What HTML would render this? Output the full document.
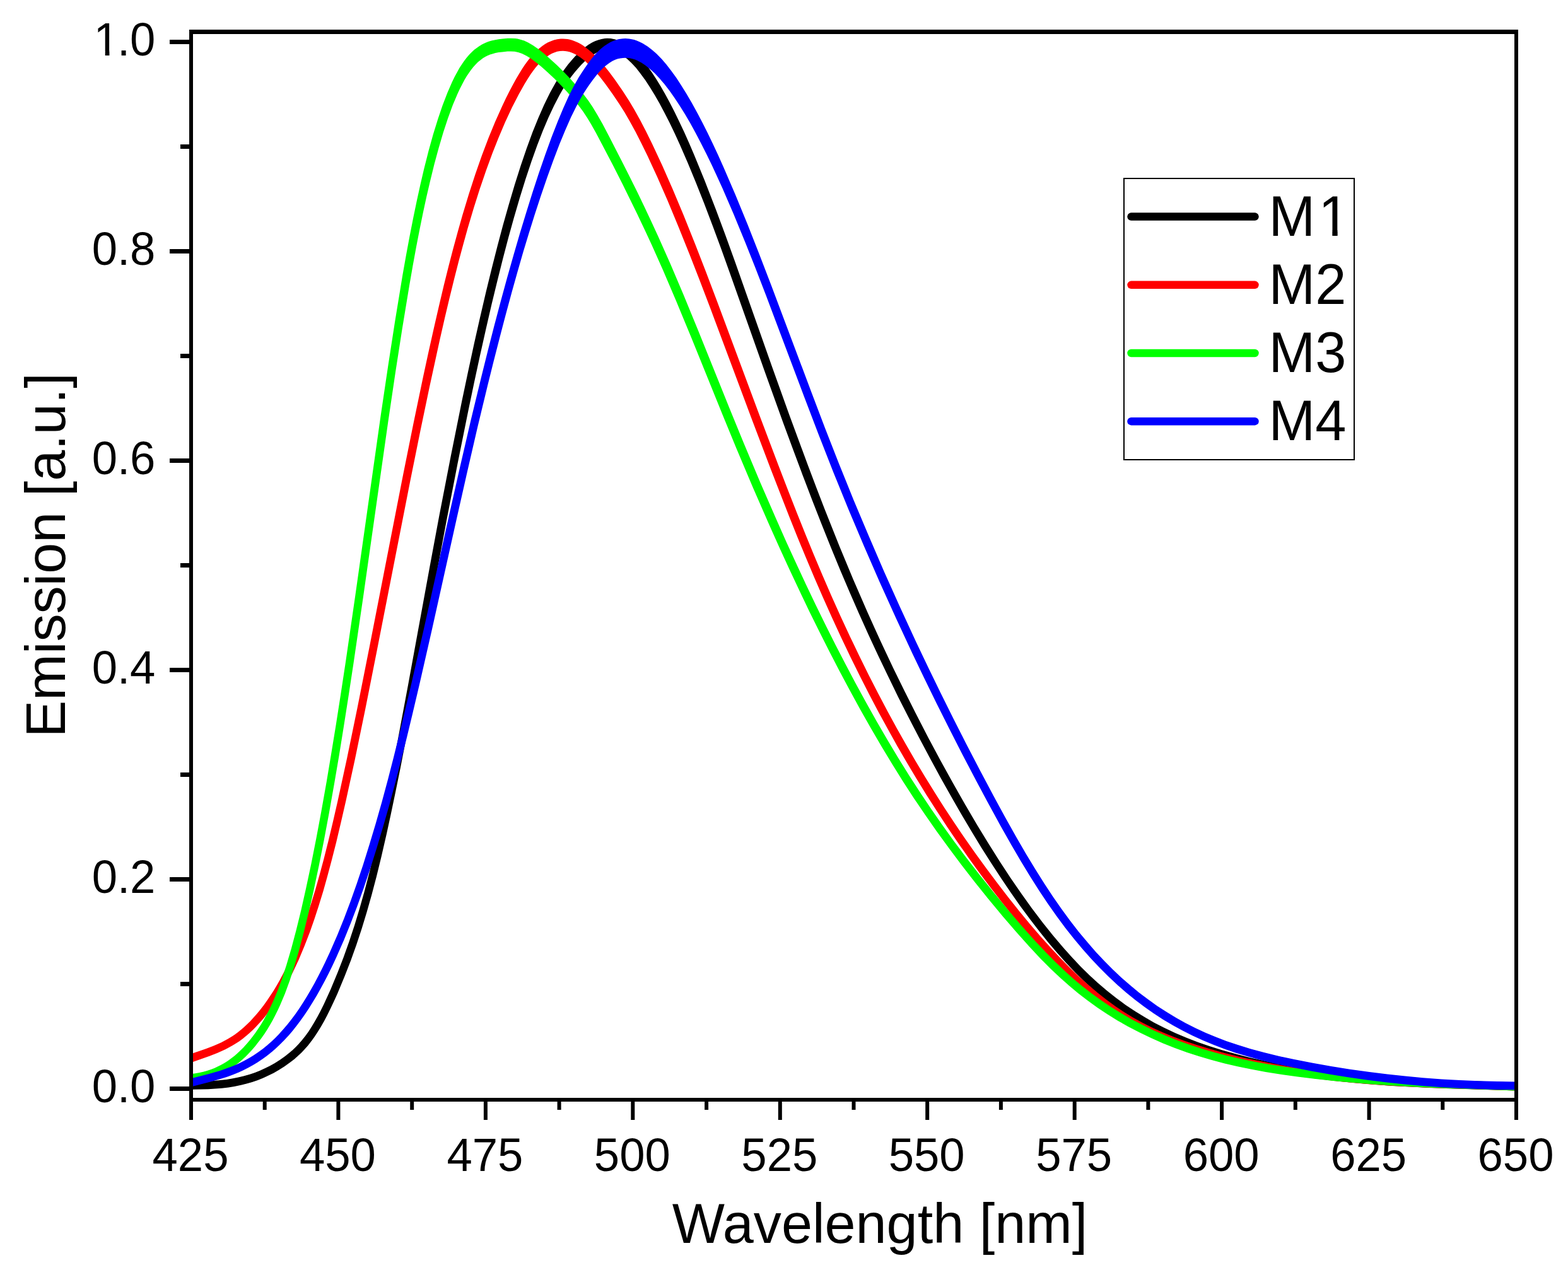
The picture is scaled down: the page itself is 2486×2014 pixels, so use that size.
<!DOCTYPE html>
<html><head><meta charset="utf-8"><title>Emission spectra</title>
<style>html,body{margin:0;padding:0;background:#fff;} svg{display:block;}</style>
</head><body>
<svg width="2486" height="2014" viewBox="0 0 2486 2014">
<rect x="0" y="0" width="2486" height="2014" fill="#fff"/>
<defs><clipPath id="plot"><rect x="303" y="50" width="2101" height="1694"/></clipPath></defs>
<g clip-path="url(#plot)">
<path d="M303.0 1727.7 318.1 1727.6 330.3 1727.2 340.9 1726.6 351.6 1725.7 362.3 1724.4 371.4 1722.9 382.0 1720.8 391.0 1718.6 399.9 1715.9 408.7 1712.9 417.3 1709.5 425.8 1705.6 434.1 1701.4 442.2 1696.8 451.3 1691.0 458.9 1685.6 466.3 1679.9 472.1 1674.8 477.8 1669.4 483.2 1663.7 488.3 1657.9 494.1 1650.5 498.6 1644.3 503.7 1636.6 508.5 1628.7 513.8 1619.4 518.8 1610.0 524.2 1599.1 529.4 1588.1 535.0 1575.7 546.6 1547.8 555.9 1523.9 565.1 1498.3 573.6 1472.5 581.5 1446.5 589.3 1419.0 597.0 1389.8 604.8 1357.7 612.9 1322.5 619.9 1290.2 627.0 1256.3 634.8 1218.1 642.8 1176.8 659.3 1089.7 693.1 905.2 707.7 827.1 725.4 735.8 742.3 652.0 751.8 606.5 761.3 562.5 770.5 521.5 779.6 482.1 788.8 444.3 797.5 409.4 806.3 376.1 814.7 345.8 823.9 314.2 833.2 284.2 842.6 255.9 851.7 230.6 860.8 207.0 869.5 186.5 878.3 167.7 887.1 150.7 891.5 143.1 896.1 135.6 900.9 128.3 906.0 121.3 911.3 114.4 916.0 108.9 921.8 102.6 926.9 97.6 932.2 92.9 936.5 89.5 941.0 86.5 945.6 83.8 950.2 81.7 954.9 80.2 959.5 79.3 962.9 79.1 965.1 79.2 968.5 79.6 972.0 80.4 975.4 81.5 981.2 84.1 984.6 86.1 987.9 88.4 994.4 93.5 1001.5 100.2 1008.3 107.6 1015.5 116.7 1023.2 127.3 1030.5 138.4 1038.2 151.0 1045.5 163.8 1053.2 178.2 1061.3 194.1 1069.7 211.6 1077.8 229.2 1090.3 258.0 1102.9 288.4 1116.1 321.8 1130.4 359.6 1142.9 393.3 1156.6 431.4 1212.2 588.5 1241.7 670.4 1257.8 714.1 1273.1 754.9 1288.1 794.2 1302.3 830.6 1317.4 868.2 1332.3 904.4 1347.0 939.0 1361.4 972.0 1376.8 1006.3 1392.0 1039.1 1407.6 1071.6 1424.1 1105.4 1440.4 1137.6 1457.0 1169.6 1474.0 1201.5 1491.2 1233.2 1508.1 1263.3 1524.6 1292.0 1540.8 1319.2 1556.4 1344.9 1571.7 1369.1 1587.4 1393.1 1602.6 1415.5 1617.3 1436.5 1632.5 1457.1 1647.3 1476.3 1661.5 1493.9 1676.2 1511.2 1690.3 1527.0 1704.9 1542.4 1719.0 1556.2 1733.5 1569.5 1748.6 1582.3 1762.9 1593.6 1777.7 1604.4 1792.8 1614.6 1808.3 1624.2 1824.2 1633.2 1840.4 1641.6 1858.3 1650.0 1875.1 1657.1 1893.5 1664.2 1912.1 1670.7 1932.3 1677.1 1954.1 1683.3 1977.5 1689.3 2001.1 1694.8 2024.7 1699.7 2048.5 1704.0 2073.8 1708.1 2099.2 1711.7 2126.1 1714.9 2151.6 1717.5 2178.6 1719.8 2207.1 1721.9 2237.2 1723.6 2265.7 1725.0 2298.8 1726.2 2403.8 1729.4 2404.2 1716.6 2300.7 1713.5 2267.8 1712.2 2237.9 1710.8 2208.0 1709.1 2181.1 1707.2 2154.3 1704.9 2129.0 1702.3 2102.3 1699.2 2077.2 1695.7 2052.1 1691.7 2028.6 1687.4 2005.3 1682.6 1982.0 1677.2 1958.9 1671.3 1937.4 1665.2 1917.5 1659.0 1899.3 1652.7 1881.3 1645.8 1863.5 1638.3 1846.1 1630.1 1830.3 1621.9 1814.9 1613.1 1799.8 1603.8 1785.0 1593.9 1769.5 1582.5 1755.6 1571.5 1740.9 1559.0 1727.8 1546.9 1714.0 1533.4 1699.7 1518.3 1685.8 1502.8 1669.5 1483.5 1652.7 1462.5 1635.7 1439.9 1619.1 1416.8 1602.2 1392.2 1585.0 1365.9 1567.4 1338.1 1549.5 1308.7 1530.6 1276.5 1511.3 1242.6 1491.1 1205.9 1471.3 1168.9 1452.0 1131.6 1433.9 1095.5 1416.1 1059.2 1398.8 1022.6 1387.0 996.8 1375.3 970.8 1352.6 918.6 1330.8 866.0 1307.5 807.5 1294.6 774.0 1280.8 737.5 1251.7 658.8 1223.4 579.7 1165.5 415.5 1149.7 371.7 1135.0 332.2 1117.1 285.9 1100.5 245.5 1092.8 227.5 1084.8 209.6 1077.1 193.2 1069.1 176.8 1061.5 162.0 1054.3 148.7 1047.4 136.8 1040.2 125.1 1033.5 114.8 1026.3 104.8 1019.6 96.2 1013.4 89.0 1006.7 82.2 1000.7 76.8 994.2 71.8 988.4 68.1 982.2 65.0 975.5 62.6 971.9 61.7 968.3 61.1 962.7 60.8 958.9 61.1 953.5 61.9 948.2 63.4 943.3 65.3 938.6 67.6 932.8 71.1 927.4 75.0 922.4 79.1 917.7 83.5 912.1 89.1 906.8 94.9 900.8 102.1 896.1 108.2 890.7 115.8 885.6 123.6 880.7 131.5 876.2 139.5 871.8 147.6 867.0 157.2 862.4 166.8 853.3 187.6 844.2 210.1 834.8 235.7 825.6 262.8 816.0 293.0 806.6 324.7 797.6 356.6 788.7 390.0 779.8 425.0 770.5 463.0 761.3 502.5 751.7 545.0 742.2 589.1 732.3 636.1 714.8 723.0 696.5 817.3 681.4 898.5 646.8 1087.4 630.5 1174.4 622.4 1215.6 614.7 1253.8 607.7 1287.6 600.7 1319.8 592.6 1354.8 585.2 1385.3 577.6 1414.2 569.9 1441.6 562.1 1467.3 553.7 1492.8 544.7 1518.1 535.5 1541.8 524.1 1569.3 513.6 1592.3 508.3 1602.9 503.5 1612.0 498.4 1621.0 493.9 1628.5 489.1 1635.9 484.0 1642.9 478.6 1649.8 473.8 1655.2 468.8 1660.4 463.6 1665.4 458.2 1670.1 451.3 1675.4 444.2 1680.4 435.6 1685.9 428.0 1690.2 420.3 1694.1 412.3 1697.7 404.2 1700.9 396.0 1703.8 386.2 1706.6 377.7 1708.6 367.7 1710.6 359.0 1711.9 348.8 1713.1 338.6 1713.9 328.3 1714.5 316.4 1714.8 303.0 1714.9Z" fill="#000000"/>
<path d="M305.2 1684.2 332.1 1674.7 344.9 1669.7 357.6 1664.0 368.6 1658.1 373.9 1654.8 379.1 1651.4 384.2 1647.7 390.3 1642.8 395.0 1638.8 400.7 1633.5 406.1 1628.0 411.4 1622.3 417.4 1615.4 423.2 1608.2 428.8 1600.9 434.1 1593.5 439.3 1585.9 444.2 1578.1 448.9 1570.3 454.2 1561.0 459.3 1551.7 464.1 1542.2 473.2 1522.9 482.6 1500.6 491.3 1478.0 498.3 1458.0 505.3 1436.5 512.4 1413.4 518.9 1390.2 525.9 1364.0 533.3 1334.9 540.6 1304.1 548.3 1270.4 562.7 1204.4 579.4 1123.5 597.8 1030.7 650.1 764.2 666.4 683.4 680.8 614.4 697.4 538.2 705.1 504.6 712.7 472.5 720.2 442.0 727.2 414.4 734.2 388.4 741.4 362.5 751.2 329.5 760.7 299.6 770.8 269.9 780.6 243.3 790.4 218.4 800.9 193.7 811.6 170.8 822.4 149.7 831.8 133.0 836.4 125.4 841.2 118.1 845.3 112.2 849.7 106.6 854.3 101.2 858.2 97.2 862.2 93.5 866.4 90.2 870.8 87.2 875.2 84.8 879.8 82.9 883.2 81.8 887.8 81.0 892.4 80.7 895.9 80.9 899.4 81.5 902.9 82.3 906.4 83.5 909.9 85.0 913.4 86.8 920.1 91.1 927.8 97.1 935.0 103.9 942.9 112.3 951.4 122.3 960.4 134.0 970.8 148.4 981.6 164.4 990.2 178.1 998.4 192.2 1007.6 209.1 1017.1 227.7 1026.9 247.8 1041.9 280.3 1058.1 317.3 1074.8 357.4 1093.2 403.3 1109.0 443.8 1126.1 488.6 1192.8 667.1 1222.1 744.3 1251.0 818.5 1264.4 852.0 1277.0 882.6 1291.0 915.8 1304.8 947.5 1318.9 979.1 1333.4 1010.5 1348.3 1041.7 1363.0 1071.4 1378.0 1100.9 1392.7 1128.9 1407.8 1156.6 1422.5 1182.9 1437.6 1208.9 1453.0 1234.8 1468.8 1260.4 1485.0 1285.8 1501.5 1311.0 1517.6 1334.7 1534.8 1359.3 1551.6 1382.5 1569.6 1406.6 1588.1 1430.4 1605.9 1452.8 1623.2 1473.7 1639.9 1493.2 1657.0 1512.3 1672.5 1528.8 1688.5 1544.9 1703.8 1559.6 1718.4 1572.8 1733.5 1585.5 1747.8 1596.7 1762.7 1607.4 1776.7 1616.7 1791.0 1625.3 1807.0 1634.1 1823.4 1642.3 1840.0 1649.7 1856.9 1656.6 1875.4 1663.3 1895.6 1670.0 1915.8 1676.1 1939.1 1682.6 1962.6 1688.4 1986.1 1693.7 2011.3 1698.7 2036.5 1703.2 2063.4 1707.4 2090.2 1711.1 2117.2 1714.2 2144.2 1716.9 2172.7 1719.4 2201.2 1721.4 2232.7 1723.3 2264.2 1724.8 2298.8 1726.1 2403.8 1729.4 2404.2 1716.6 2299.2 1713.4 2264.8 1712.0 2233.4 1710.5 2202.0 1708.6 2173.7 1706.6 2145.3 1704.2 2118.6 1701.5 2091.9 1698.4 2065.2 1694.7 2038.7 1690.6 2013.7 1686.1 1988.8 1681.1 1965.5 1675.9 1942.4 1670.2 1919.4 1663.8 1898.0 1657.3 1878.3 1650.7 1860.2 1644.1 1843.7 1637.3 1827.5 1630.0 1811.6 1622.1 1796.1 1613.5 1782.3 1605.0 1768.7 1596.0 1754.4 1585.6 1740.4 1574.6 1725.7 1562.1 1711.4 1549.2 1696.4 1534.7 1680.7 1518.8 1665.5 1502.5 1649.5 1484.7 1633.0 1465.4 1615.9 1444.7 1598.2 1422.5 1580.0 1398.8 1563.0 1376.0 1546.3 1353.0 1529.1 1328.5 1513.2 1305.0 1497.5 1281.3 1482.3 1257.3 1466.5 1231.8 1451.2 1206.2 1436.2 1180.3 1421.5 1154.2 1407.2 1127.9 1391.8 1098.8 1376.8 1069.5 1362.3 1040.0 1347.4 1008.9 1332.9 977.7 1318.2 944.9 1303.9 911.9 1289.9 878.8 1276.9 846.9 1263.5 813.5 1249.3 777.3 1234.2 738.1 1204.5 659.5 1136.5 476.7 1118.9 430.3 1102.6 388.3 1083.6 340.8 1066.2 299.2 1049.8 262.0 1033.8 227.8 1023.8 207.5 1014.7 190.0 1005.8 174.1 997.3 159.7 987.3 144.3 975.2 126.8 965.2 113.3 955.5 101.3 947.2 92.0 938.2 83.1 930.8 76.9 926.9 73.9 922.7 71.1 918.3 68.5 915.2 67.0 910.3 64.9 907.0 63.8 903.5 62.8 899.9 62.1 896.3 61.7 892.6 61.5 888.9 61.6 883.4 62.3 878.1 63.5 873.0 65.4 868.2 67.6 863.6 70.3 859.4 73.2 854.1 77.4 849.3 81.9 844.8 86.6 840.6 91.4 836.7 96.4 832.1 102.8 827.8 109.3 822.9 117.2 818.3 125.1 813.1 134.5 807.4 145.2 802.0 156.1 796.1 168.4 785.0 193.3 774.6 218.5 763.9 246.7 753.5 276.6 743.2 308.2 733.2 341.3 725.8 367.4 718.3 395.0 711.1 422.7 703.5 453.3 695.9 485.5 687.8 520.7 679.3 558.8 670.7 598.4 655.7 670.5 639.1 752.9 585.6 1026.8 566.6 1122.5 550.3 1201.8 535.7 1269.1 528.0 1302.7 520.7 1333.3 513.4 1362.3 506.4 1388.3 499.9 1411.3 492.9 1434.1 485.9 1455.4 478.9 1475.1 470.3 1497.3 461.6 1517.8 452.8 1536.6 448.1 1545.8 443.2 1554.9 438.0 1563.9 433.5 1571.4 423.7 1586.2 418.6 1593.4 413.2 1600.4 407.7 1607.2 401.9 1613.8 397.0 1619.2 391.8 1624.3 386.5 1629.3 382.1 1633.0 376.5 1637.5 371.8 1640.9 367.1 1644.1 360.9 1647.8 350.7 1653.2 338.7 1658.5 326.3 1663.2 300.8 1672.1Z" fill="#ff0000"/>
<path d="M303.8 1716.0 311.4 1714.9 317.6 1713.8 325.2 1712.1 331.3 1710.4 338.7 1708.0 344.6 1705.7 350.4 1703.1 356.0 1700.3 361.5 1697.2 366.8 1693.8 372.0 1690.3 378.2 1685.5 383.0 1681.5 388.8 1676.2 394.2 1670.7 399.5 1665.0 404.5 1659.2 409.3 1653.1 414.0 1647.0 419.3 1639.4 423.5 1633.0 428.3 1625.1 432.0 1618.5 436.3 1610.3 440.4 1602.1 444.2 1593.8 451.9 1575.5 459.2 1555.5 466.2 1533.9 473.9 1507.9 481.6 1478.7 489.5 1446.5 497.5 1411.3 505.6 1373.1 513.8 1331.8 521.8 1288.9 530.2 1241.6 537.5 1198.7 544.9 1152.7 552.6 1103.8 560.5 1051.8 575.7 947.8 615.2 670.0 626.8 591.4 637.4 523.2 649.1 452.2 654.5 421.2 659.9 391.8 665.3 363.9 670.7 337.5 676.1 312.6 681.5 289.3 688.6 260.3 695.6 234.4 702.8 210.1 710.2 187.5 717.9 166.6 725.3 149.0 729.0 141.0 733.0 133.2 736.4 126.8 740.1 120.6 746.5 111.2 750.0 106.8 753.6 102.7 757.4 98.8 761.5 95.4 765.7 92.3 769.0 90.3 772.3 88.6 777.0 86.6 780.6 85.4 785.5 84.1 790.7 83.1 796.2 82.4 804.6 81.6 809.9 81.5 816.0 81.8 821.7 82.9 827.6 84.9 834.6 88.4 841.6 92.8 849.6 98.7 858.6 106.1 868.6 114.9 879.3 125.0 889.6 135.4 899.6 146.2 910.2 158.4 917.5 167.5 924.4 176.8 930.8 186.5 936.9 196.6 944.9 210.8 954.0 227.9 971.3 261.1 986.9 291.8 1010.7 340.2 1022.2 364.5 1032.9 387.6 1051.2 428.6 1071.8 476.8 1095.3 533.6 1145.5 657.4 1167.7 711.5 1194.0 773.8 1219.9 833.0 1235.9 868.7 1251.5 902.8 1267.5 936.8 1283.1 969.4 1299.1 1001.7 1314.6 1032.6 1330.5 1063.3 1346.1 1092.5 1363.4 1124.2 1380.4 1154.3 1397.9 1184.2 1415.0 1212.6 1431.8 1239.4 1449.0 1265.9 1466.7 1292.1 1484.8 1318.0 1504.3 1344.8 1524.1 1371.3 1545.4 1398.7 1567.1 1425.7 1590.1 1453.5 1611.7 1478.6 1631.8 1501.1 1650.4 1520.9 1665.4 1535.9 1680.8 1550.5 1695.5 1563.6 1709.5 1575.2 1725.2 1587.3 1740.0 1597.9 1755.1 1608.0 1771.9 1618.4 1789.1 1628.2 1806.6 1637.3 1824.3 1645.8 1843.8 1654.4 1862.1 1661.7 1882.0 1668.9 1900.7 1675.1 1921.1 1681.0 1941.6 1686.4 1962.2 1691.2 1984.4 1695.8 2006.7 1699.9 2030.5 1703.7 2057.4 1707.4 2085.8 1710.9 2115.7 1714.2 2144.2 1716.8 2174.2 1719.2 2204.2 1721.3 2237.2 1723.2 2270.2 1724.8 2307.8 1726.3 2403.8 1729.4 2404.2 1716.6 2308.3 1713.5 2272.3 1712.1 2239.4 1710.5 2206.5 1708.6 2176.6 1706.6 2146.8 1704.2 2118.5 1701.6 2090.2 1698.6 2062.0 1695.1 2035.4 1691.4 2010.3 1687.5 1988.3 1683.5 1966.4 1679.0 1946.1 1674.3 1925.9 1669.1 1906.0 1663.3 1886.2 1656.8 1866.6 1649.7 1848.7 1642.6 1829.7 1634.2 1812.3 1625.8 1795.2 1616.9 1778.5 1607.3 1762.1 1597.2 1747.3 1587.3 1731.6 1576.1 1716.4 1564.3 1702.8 1552.9 1688.4 1540.0 1673.3 1525.6 1658.7 1510.8 1640.3 1491.2 1620.5 1469.0 1599.1 1444.0 1575.3 1415.1 1553.8 1388.2 1532.7 1361.0 1513.0 1334.7 1493.8 1308.0 1475.9 1282.2 1458.4 1256.1 1441.4 1229.7 1424.0 1201.8 1407.1 1173.6 1389.8 1143.8 1373.0 1113.8 1355.8 1082.2 1340.4 1053.1 1324.6 1022.5 1309.2 991.7 1293.4 959.4 1277.9 926.9 1262.1 893.0 1246.5 858.9 1230.7 823.3 1205.0 764.2 1178.9 702.0 1156.8 647.9 1106.9 524.0 1083.5 467.0 1062.9 418.6 1044.0 376.0 1033.3 352.7 1021.8 328.2 1010.0 303.8 997.3 278.2 981.7 247.4 964.5 213.9 955.3 196.6 947.0 182.0 939.8 170.1 932.9 159.8 925.5 149.9 915.8 138.0 904.7 125.4 894.1 114.3 883.2 103.5 870.8 92.2 861.4 84.1 852.7 77.3 844.7 71.7 837.4 67.6 831.1 64.6 824.2 62.4 820.6 61.6 817.0 61.1 809.9 60.7 804.9 60.8 797.0 61.5 790.6 62.2 784.0 63.4 779.1 64.6 774.2 66.1 769.3 68.0 764.6 70.3 760.1 72.9 755.9 75.9 751.8 79.1 748.1 82.5 744.6 86.0 740.2 91.0 736.2 96.2 732.6 101.4 728.3 108.1 724.5 114.9 720.8 121.8 716.8 130.1 709.4 147.0 701.7 166.9 694.4 188.5 686.8 213.1 679.5 239.3 672.1 268.5 666.3 293.5 660.8 318.5 655.3 345.0 649.5 374.5 644.0 404.1 638.2 436.7 626.3 509.3 615.5 579.1 603.6 659.3 563.5 943.1 548.2 1048.5 540.3 1100.4 532.7 1149.2 525.2 1195.1 517.8 1239.5 509.4 1286.7 501.4 1329.4 493.3 1370.6 485.2 1408.6 477.3 1443.7 469.5 1475.6 461.8 1504.5 454.2 1530.2 447.3 1551.4 440.7 1569.5 433.3 1587.3 425.8 1603.3 418.1 1617.5 413.6 1625.0 409.6 1631.1 405.4 1637.2 400.2 1644.2 395.7 1650.0 391.0 1655.5 386.1 1660.9 381.0 1666.0 375.7 1670.9 371.4 1674.7 365.7 1679.1 361.0 1682.4 355.0 1686.2 350.0 1689.0 344.9 1691.6 339.7 1693.9 334.4 1695.9 327.6 1698.2 322.1 1699.7 315.1 1701.3 309.4 1702.3 302.2 1703.3Z" fill="#00ff00"/>
<path d="M304.6 1723.0 333.8 1715.6 352.8 1710.1 361.5 1707.2 370.1 1704.0 378.7 1700.4 385.7 1697.2 394.0 1693.1 402.1 1688.5 408.7 1684.5 416.4 1679.3 422.7 1674.8 429.9 1669.0 436.9 1662.9 443.7 1656.6 450.2 1650.1 457.5 1642.2 463.5 1635.2 470.2 1626.8 476.6 1618.3 482.8 1609.6 489.5 1599.4 496.0 1589.1 502.2 1578.7 508.2 1568.1 514.7 1556.1 520.9 1544.0 526.9 1531.7 533.3 1518.1 545.4 1490.4 556.2 1463.8 566.4 1437.1 576.5 1408.7 587.1 1377.3 597.5 1344.3 607.4 1311.1 617.3 1276.4 627.5 1238.6 636.1 1205.1 645.2 1168.7 654.7 1129.3 665.0 1085.4 685.4 996.1 724.2 821.8 740.4 750.1 756.9 678.5 772.7 612.9 782.5 573.6 792.5 534.4 802.0 498.2 811.4 463.5 820.3 431.7 829.4 400.1 838.5 369.9 847.4 341.4 857.2 311.5 867.4 281.8 877.5 253.7 887.1 228.6 896.2 206.5 905.2 186.1 913.6 168.9 921.3 154.7 925.8 147.2 930.5 139.9 934.6 133.9 939.7 126.9 945.1 120.1 949.7 114.6 954.5 109.5 958.4 105.8 962.5 102.4 966.7 99.4 971.0 96.8 975.3 94.8 979.5 93.3 983.6 92.4 987.6 91.9 991.4 91.7 997.4 92.1 1003.7 93.5 1007.0 94.6 1010.4 96.0 1017.1 99.5 1023.7 103.9 1031.2 109.9 1038.4 116.6 1046.2 124.9 1053.7 133.7 1061.6 144.1 1069.3 154.9 1077.4 167.2 1086.0 181.0 1094.2 195.1 1102.8 210.8 1111.8 227.9 1119.9 243.9 1128.3 261.3 1136.5 278.9 1145.2 298.0 1163.0 339.2 1181.8 384.9 1197.3 423.9 1214.5 468.6 1274.8 628.7 1297.8 689.1 1321.4 749.2 1345.2 807.7 1369.7 865.8 1394.3 922.3 1420.3 979.8 1446.3 1035.7 1465.1 1075.0 1484.9 1115.5 1505.1 1155.8 1525.6 1195.9 1547.9 1238.5 1567.7 1275.6 1586.5 1309.9 1603.5 1340.0 1618.7 1366.0 1633.6 1390.5 1648.2 1413.4 1661.6 1433.5 1675.5 1453.3 1689.0 1471.5 1703.1 1489.3 1716.7 1505.5 1729.8 1520.3 1743.3 1534.6 1757.3 1548.5 1771.7 1562.0 1785.4 1574.0 1799.6 1585.5 1814.1 1596.5 1829.0 1607.0 1844.3 1616.9 1860.0 1626.2 1874.7 1634.3 1891.0 1642.5 1907.5 1650.1 1924.4 1657.1 1941.4 1663.5 1958.6 1669.4 1978.9 1675.6 1999.4 1681.2 2022.9 1686.9 2047.9 1692.3 2077.5 1698.2 2107.2 1703.5 2136.9 1708.2 2168.2 1712.7 2196.6 1716.2 2226.6 1719.4 2255.1 1722.0 2285.1 1724.2 2313.7 1725.8 2343.8 1727.1 2373.9 1727.9 2404.0 1728.2 2404.0 1715.4 2374.1 1715.1 2344.2 1714.3 2314.3 1713.0 2286.0 1711.4 2256.1 1709.2 2227.8 1706.6 2199.6 1703.6 2171.4 1700.1 2140.3 1695.7 2110.8 1691.0 2081.4 1685.8 2052.0 1680.0 2027.2 1674.7 2004.0 1669.1 1982.5 1663.2 1962.6 1657.1 1944.4 1650.9 1927.7 1644.6 1911.3 1637.7 1895.2 1630.2 1879.4 1622.2 1865.1 1614.3 1849.9 1605.1 1835.0 1595.4 1820.5 1585.1 1806.4 1574.4 1792.6 1563.1 1778.1 1550.4 1764.1 1537.2 1750.5 1523.5 1737.3 1509.4 1724.6 1494.8 1710.3 1477.7 1696.6 1460.1 1683.4 1442.1 1669.8 1422.5 1655.8 1401.3 1641.5 1378.6 1626.8 1354.3 1611.0 1327.1 1593.5 1295.8 1574.9 1261.6 1553.8 1221.8 1531.7 1179.2 1511.4 1139.2 1491.4 1098.9 1471.7 1058.5 1452.4 1017.9 1426.6 962.1 1401.5 906.0 1377.2 849.6 1353.4 792.9 1330.4 735.9 1308.0 678.7 1286.2 621.2 1222.8 452.6 1202.9 400.8 1185.3 356.0 1165.9 308.7 1147.4 265.8 1138.8 246.5 1130.5 228.7 1122.0 211.0 1113.8 194.8 1105.4 178.7 1096.6 162.7 1088.1 148.2 1080.0 135.2 1072.4 123.6 1064.2 112.2 1056.5 102.3 1049.2 93.8 1041.2 85.6 1033.7 78.9 1026.9 73.7 1019.3 68.9 1012.6 65.7 1009.1 64.3 1005.4 63.1 1001.6 62.2 997.6 61.5 991.6 61.1 987.5 61.3 981.5 62.1 977.6 63.1 972.0 65.0 968.4 66.6 963.4 69.4 958.8 72.5 954.5 75.8 950.5 79.3 945.7 84.1 941.2 89.1 937.1 94.3 932.2 100.7 926.8 108.4 922.5 114.9 917.5 122.8 909.1 137.7 901.5 152.8 893.3 170.9 884.5 191.9 874.6 217.3 864.3 245.7 854.0 275.6 843.7 307.1 833.8 338.7 824.2 370.3 814.1 405.0 803.9 441.1 793.6 478.8 783.6 516.6 773.5 555.9 763.0 598.2 746.4 666.8 729.1 741.4 712.6 814.6 672.9 993.3 652.6 1082.5 642.3 1126.3 632.8 1165.7 623.8 1202.0 615.2 1235.4 605.5 1271.5 595.7 1306.1 585.8 1339.1 575.5 1371.9 565.5 1401.7 555.5 1429.9 545.5 1456.4 534.9 1482.7 523.0 1510.1 516.7 1523.6 510.9 1535.6 504.8 1547.6 498.5 1559.4 492.7 1569.7 486.7 1579.9 480.5 1590.0 474.0 1599.9 468.1 1608.4 461.9 1616.7 455.6 1624.8 448.9 1632.6 442.0 1640.2 435.9 1646.4 429.5 1652.5 422.9 1658.2 416.1 1663.7 409.1 1668.8 401.8 1673.7 395.6 1677.5 388.0 1681.7 380.2 1685.7 373.6 1688.7 365.5 1692.0 357.2 1695.1 348.9 1697.9 330.4 1703.2 301.4 1710.6Z" fill="#0000ff"/>
</g>
<g fill="#000">
<rect x="300" y="47" width="2107" height="7"/>
<rect x="300" y="1741" width="2107" height="6"/>
<rect x="300" y="47" width="6" height="1729"/>
<rect x="2401" y="47" width="6" height="1729"/>
<rect x="269" y="1723.0" width="31" height="7"/>
<rect x="286" y="1557.0" width="14" height="7"/>
<rect x="269" y="1391.0" width="31" height="7"/>
<rect x="286" y="1225.0" width="14" height="7"/>
<rect x="269" y="1059.0" width="31" height="7"/>
<rect x="286" y="893.0" width="14" height="7"/>
<rect x="269" y="727.0" width="31" height="7"/>
<rect x="286" y="561.0" width="14" height="7"/>
<rect x="269" y="395.0" width="31" height="7"/>
<rect x="286" y="229.0" width="14" height="7"/>
<rect x="269" y="63.0" width="31" height="7"/>
<rect x="416.7" y="1747" width="6" height="13"/>
<rect x="533.4" y="1747" width="6" height="29"/>
<rect x="650.2" y="1747" width="6" height="13"/>
<rect x="766.9" y="1747" width="6" height="29"/>
<rect x="883.6" y="1747" width="6" height="13"/>
<rect x="1000.3" y="1747" width="6" height="29"/>
<rect x="1117.1" y="1747" width="6" height="13"/>
<rect x="1233.8" y="1747" width="6" height="29"/>
<rect x="1350.5" y="1747" width="6" height="13"/>
<rect x="1467.2" y="1747" width="6" height="29"/>
<rect x="1583.9" y="1747" width="6" height="13"/>
<rect x="1700.7" y="1747" width="6" height="29"/>
<rect x="1817.4" y="1747" width="6" height="13"/>
<rect x="1934.1" y="1747" width="6" height="29"/>
<rect x="2050.8" y="1747" width="6" height="13"/>
<rect x="2167.6" y="1747" width="6" height="29"/>
<rect x="2284.3" y="1747" width="6" height="13"/>
</g>
<g font-family='"Liberation Sans", Arial, sans-serif' font-size="72.5" fill="#000">
<text text-anchor="end" transform="translate(246.4 1748.0) scale(1 1.0300)">0.0</text>
<text text-anchor="end" transform="translate(246.4 1416.0) scale(1 1.0300)">0.2</text>
<text text-anchor="end" transform="translate(246.4 1084.0) scale(1 1.0300)">0.4</text>
<text text-anchor="end" transform="translate(246.4 752.0) scale(1 1.0300)">0.6</text>
<text text-anchor="end" transform="translate(246.4 420.0) scale(1 1.0300)">0.8</text>
<g transform="translate(145.62 88.0) scale(1 1.0300)">
<text x="0" y="0"><tspan dx="3.0">1</tspan><tspan dx="-3.0">.0</tspan></text>
<rect x="7.52" y="-6.92" width="13.71" height="8.12" fill="#fff"/><rect x="27.64" y="-6.92" width="13.14" height="8.12" fill="#fff"/><rect x="21.23" y="-7.42" width="6.41" height="7.42" fill="#000"/>
</g>
<text text-anchor="middle" transform="translate(302.0 1857) scale(1 1.0300)">425</text>
<text text-anchor="middle" transform="translate(535.4 1857) scale(1 1.0300)">450</text>
<text text-anchor="middle" transform="translate(768.9 1857) scale(1 1.0300)">475</text>
<text text-anchor="middle" transform="translate(1002.3 1857) scale(1 1.0300)">500</text>
<text text-anchor="middle" transform="translate(1235.8 1857) scale(1 1.0300)">525</text>
<text text-anchor="middle" transform="translate(1469.2 1857) scale(1 1.0300)">550</text>
<text text-anchor="middle" transform="translate(1702.7 1857) scale(1 1.0300)">575</text>
<text text-anchor="middle" transform="translate(1936.1 1857) scale(1 1.0300)">600</text>
<text text-anchor="middle" transform="translate(2169.6 1857) scale(1 1.0300)">625</text>
<text text-anchor="middle" transform="translate(2403.0 1857) scale(1 1.0300)">650</text>
</g>
<g font-family='"Liberation Sans", Arial, sans-serif' font-size="88.2" fill="#000">
<text text-anchor="middle" transform="translate(1395 1971) scale(1 1.0100)">Wavelength [nm]</text>
<text text-anchor="middle" transform="translate(103 880.3) rotate(-90) scale(1 1.0100)">Emission [a.u.]</text>
</g>
<rect x="1782" y="283" width="365" height="446" fill="none" stroke="#000" stroke-width="2"/>
<line x1="1793.5" y1="343.6" x2="1989.5" y2="343.6" stroke="#000000" stroke-width="12.5" stroke-linecap="round"/>
<g font-family='"Liberation Sans", Arial, sans-serif' font-size="88.5" transform="translate(2011.6 373.8) scale(1 1.0250)">
<text x="0" y="0">M<tspan dx="5">1</tspan></text>
<rect x="84.46" y="-8.11" width="16.51" height="9.31" fill="#fff"/><rect x="108.80" y="-8.11" width="15.82" height="9.31" fill="#fff"/><rect x="100.98" y="-8.61" width="7.82" height="8.61" fill="#000"/>
</g>
<line x1="1793.5" y1="451.8" x2="1989.5" y2="451.8" stroke="#ff0000" stroke-width="12.5" stroke-linecap="round"/>
<text font-family='"Liberation Sans", Arial, sans-serif' font-size="88.5" transform="translate(2011.6 482.0) scale(1 1.0250)">M2</text>
<line x1="1793.5" y1="560.0" x2="1989.5" y2="560.0" stroke="#00ff00" stroke-width="12.5" stroke-linecap="round"/>
<text font-family='"Liberation Sans", Arial, sans-serif' font-size="88.5" transform="translate(2011.6 590.2) scale(1 1.0250)">M3</text>
<line x1="1793.5" y1="668.2" x2="1989.5" y2="668.2" stroke="#0000ff" stroke-width="12.5" stroke-linecap="round"/>
<text font-family='"Liberation Sans", Arial, sans-serif' font-size="88.5" transform="translate(2011.6 698.4) scale(1 1.0250)">M4</text>
</svg>
</body></html>
